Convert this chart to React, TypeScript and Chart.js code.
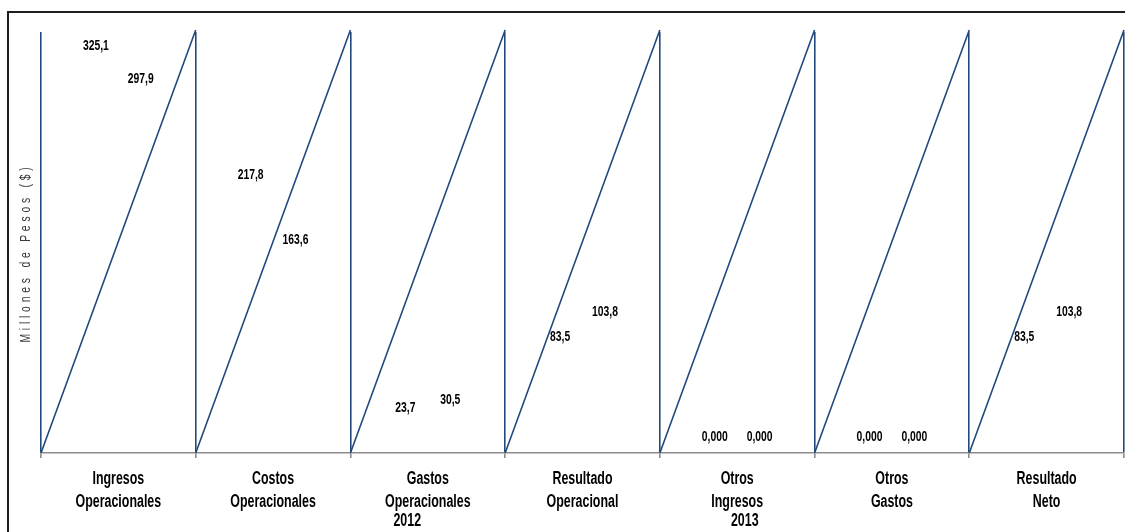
import React, { useEffect, useRef } from "react";
import { Chart, registerables } from "chart.js";

Chart.register(...registerables);

// ---- Data ----
const categories: string[][] = [
  ["Ingresos", "Operacionales"],
  ["Costos", "Operacionales"],
  ["Gastos", "Operacionales"],
  ["Resultado", "Operacional"],
  ["Otros", "Ingresos"],
  ["Otros", "Gastos"],
  ["Resultado", "Neto"],
];
const series2012: number[] = [325.1, 217.8, 23.7, 83.5, 0, 0, 83.5];
const series2013: number[] = [297.9, 163.6, 30.5, 103.8, 0, 0, 103.8];
const seriesNames: string[] = ["2012", "2013"];
const yAxisTitle = "Millones de Pesos ($)";
const yMin = 0;
const yMax = 350;

const SANS = '"Liberation Sans", Arial, "DejaVu Sans", sans-serif';
const LINE_BLUE = "#22497d";
const SX = 0.69; // horizontal condensing of all text

function fmt(v: number): string {
  if (v === 0) return "0,000";
  return v.toFixed(1).replace(".", ",");
}

function condensedText(ctx: any, text: string, x: number, y: number) {
  ctx.save();
  ctx.translate(x, y);
  ctx.scale(SX, 1);
  ctx.fillText(text, 0, 0);
  ctx.restore();
}

const sawtoothPlugin = {
  id: "sawtooth",
  beforeDatasetsDraw(chart: any) {
    const { ctx, chartArea } = chart;
    const n = chart.data.labels.length;
    const w = (chartArea.right - chartArea.left) / n;
    ctx.save();
    ctx.strokeStyle = LINE_BLUE;
    ctx.lineWidth = 1.6;
    ctx.beginPath();
    for (let i = 0; i < n; i++) {
      ctx.moveTo(chartArea.left + i * w, chartArea.bottom);
      ctx.lineTo(chartArea.left + (i + 1) * w, chartArea.top - 2);
    }
    ctx.stroke();
    ctx.restore();
  },
};

const valueLabelPlugin = {
  id: "valueLabels",
  afterDatasetsDraw(chart: any) {
    const ctx = chart.ctx;
    ctx.save();
    ctx.font = `bold 15px ${SANS}`;
    ctx.fillStyle = "#000";
    ctx.textAlign = "center";
    ctx.textBaseline = "alphabetic";
    chart.data.datasets.forEach((ds: any, di: number) => {
      const meta = chart.getDatasetMeta(di);
      meta.data.forEach((el: any, i: number) => {
        condensedText(ctx, fmt(ds.data[i]), el.x, el.y - 12);
      });
    });
    ctx.restore();
  },
};

const textPlugin = {
  id: "texts",
  afterDraw(chart: any) {
    const { ctx, chartArea } = chart;
    const xScale = chart.scales.x;

    // category labels
    ctx.save();
    ctx.font = `bold 18px ${SANS}`;
    ctx.fillStyle = "#000";
    ctx.textAlign = "center";
    ctx.textBaseline = "alphabetic";
    chart.data.labels.forEach((lab: string[], i: number) => {
      const x = xScale.getPixelForTick(i);
      lab.forEach((line: string, j: number) => {
        condensedText(ctx, line, x, chartArea.bottom + 31 + j * 22.5);
      });
    });
    ctx.restore();

    // y-axis title
    ctx.save();
    ctx.translate(17, (chartArea.top + chartArea.bottom) / 2 + 10.5);
    ctx.rotate(-Math.PI / 2);
    ctx.scale(SX, 1);
    ctx.font = `15px ${SANS}`;
    (ctx as any).letterSpacing = "5.5px";
    ctx.fillStyle = "#3a3a3a";
    ctx.textAlign = "center";
    ctx.textBaseline = "middle";
    ctx.fillText(yAxisTitle, 0, 0);
    ctx.restore();

    // legend texts (series names)
    ctx.save();
    ctx.font = `bold 18px ${SANS}`;
    ctx.fillStyle = "#000";
    ctx.textAlign = "center";
    ctx.textBaseline = "alphabetic";
    const cx = chart.width / 2 + 9;
    const gap = 337.5;
    const names = chart.data.datasets.map((d: any) => d.label);
    names.forEach((name: string, i: number) => {
      const x = cx + (i - (names.length - 1) / 2) * gap;
      condensedText(ctx, name, x, chartArea.bottom + 73);
    });
    ctx.restore();
  },
};

export default function App() {
  const ref = useRef<HTMLCanvasElement | null>(null);

  useEffect(() => {
    document.body.style.overflow = "hidden";
    const canvas = ref.current;
    if (!canvas) return;
    const chart = new Chart(canvas, {
      type: "bar",
      data: {
        labels: categories,
        datasets: [
          {
            label: seriesNames[0],
            data: series2012,
            backgroundColor: "rgba(0,0,0,0)",
            borderWidth: 0,
            categoryPercentage: 0.58,
            barPercentage: 0.9,
          },
          {
            label: seriesNames[1],
            data: series2013,
            backgroundColor: "rgba(0,0,0,0)",
            borderWidth: 0,
            categoryPercentage: 0.58,
            barPercentage: 0.9,
          },
        ],
      },
      options: {
        animation: false,
        responsive: false,
        devicePixelRatio: 1,
        layout: { padding: { left: 32, right: 1, top: 19, bottom: 74 } },
        plugins: {
          legend: { display: false },
          tooltip: { enabled: false },
        },
        scales: {
          x: {
            grid: {
              display: true,
              offset: true,
              color: LINE_BLUE,
              lineWidth: 1.6,
              tickColor: "#8c8c8c",
              tickLength: 5,
              drawOnChartArea: true,
            },
            border: { display: true, color: "#8c8c8c", width: 1.5 },
            ticks: { display: false },
          },
          y: {
            display: false,
            min: yMin,
            max: yMax,
          },
        },
      },
      plugins: [sawtoothPlugin, valueLabelPlugin, textPlugin],
    });
    return () => chart.destroy();
  }, []);

  return (
    <div
      style={{
        position: "fixed",
        left: 7,
        top: 11,
        width: 1118,
        height: 521,
        borderTop: "2px solid #1e1e1e",
        borderLeft: "2px solid #1e1e1e",
        background: "#fff",
        overflow: "hidden",
      }}
    >
      <canvas ref={ref} width={1116} height={519} style={{ display: "block" }} />
    </div>
  );
}
